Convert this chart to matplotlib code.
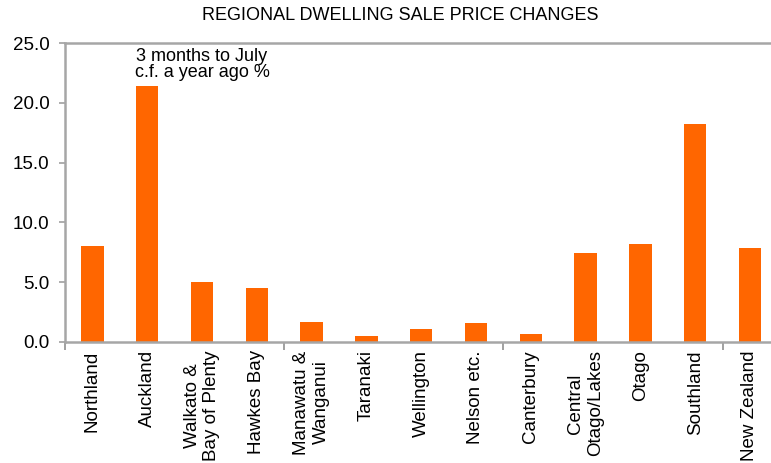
import matplotlib
matplotlib.use('Agg')
import matplotlib.pyplot as plt

regions = ['Northland', 'Auckland', 'Walkato &\nBay of Plenty', 'Hawkes Bay',
           'Manawatu &\nWanganui', 'Taranaki', 'Wellington', 'Nelson etc.',
           'Canterbury', 'Central\nOtago/Lakes', 'Otago', 'Southland',
           'New Zealand']
price_change = [8.0, 21.4, 5.0, 4.55, 1.7, 0.5, 1.05, 1.55, 0.7, 7.4, 8.2, 18.2, 7.9]
y_ticks = [0.0, 5.0, 10.0, 15.0, 20.0, 25.0]

plt.rcParams['font.family'] = ['Liberation Sans', 'DejaVu Sans']

fig = plt.figure(figsize=(7.71, 4.63), dpi=100)
# axes run slightly past the right edge, like the clipped original
ax = fig.add_axes([65 / 771, 121 / 463, 13 * 54.8 / 771, 299 / 463])

x = list(range(len(regions)))
ax.bar(x, price_change, width=0.41, color='#ff6600', zorder=2)

ax.set_xlim(-0.5, len(regions) - 0.5)
ax.set_ylim(0, 25)
ax.set_yticks(y_ticks)
ax.set_yticklabels([f'{v:.1f}' for v in y_ticks], fontsize=13.5)

# tick marks every 4 categories, labels under each bar
ax.set_xticks([-0.5, 3.5, 7.5, 11.5])
ax.set_xticklabels([])
ax.set_xticks(x, minor=True)
ax.set_xticklabels(regions, minor=True, rotation=90, fontsize=13.5,
                   ha='center', va='top', multialignment='center')
ax.tick_params(axis='x', which='minor', length=0, pad=6)
ax.tick_params(axis='x', which='major', length=6, width=1.2, color='#909090')
ax.tick_params(axis='y', length=4, width=1.2, color='#a0a0a0', pad=7)

for side in ['left', 'bottom', 'top', 'right']:
    ax.spines[side].set_color('#a6a6a6')
    ax.spines[side].set_linewidth(1.8)

ax.text(2.0, 23.2, '3 months to July\nc.f. a year ago %', ha='center',
        va='center', fontsize=13, linespacing=0.95)

fig.text(0.519, 0.967, 'REGIONAL DWELLING SALE PRICE CHANGES', ha='center',
         va='center', fontsize=13)

fig.savefig('out.png', dpi=100)
